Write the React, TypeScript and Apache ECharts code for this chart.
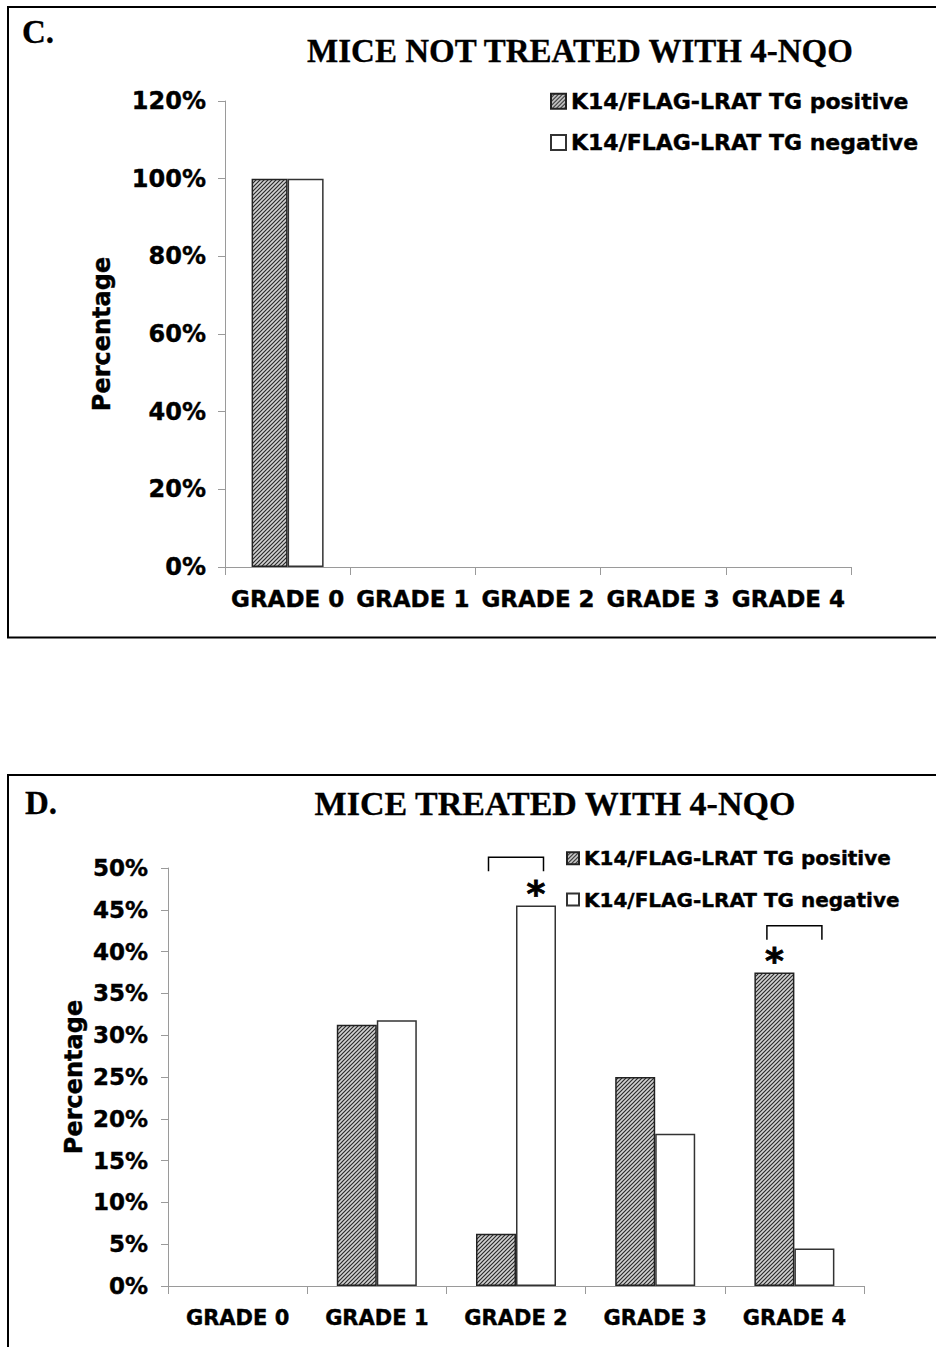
import React, { useEffect, useRef } from "react";
import * as echarts from "echarts";

// ---- data ----
const categories = ["GRADE 0", "GRADE 1", "GRADE 2", "GRADE 3", "GRADE 4"];
const seriesNames = ["K14/FLAG-LRAT TG positive", "K14/FLAG-LRAT TG negative"];
const untreatedPositive = [100, 0, 0, 0, 0];
const untreatedNegative = [100, 0, 0, 0, 0];
const treatedPositive = [0, 31.25, 6.25, 25, 37.5];
const treatedNegative = [0, 31.8, 45.5, 18.2, 4.5];
const untreatedAxis = { min: 0, max: 120, interval: 20 };
const treatedAxis = { min: 0, max: 50, interval: 5 };
// significance: bracket over category, star above one bar, bracket top value (in %)
const significance = [
  { category: "GRADE 2", star: "negative", bracketTop: 51.3 },
  { category: "GRADE 4", star: "positive", bracketTop: 43.1 },
];

const SANS = "DejaVu Sans";
const SERIF = "Liberation Serif";
const heavy = { textBorderColor: "#000", textBorderWidth: 0.4 };

export default function App() {
  const ref = useRef<HTMLDivElement>(null);

  useEffect(() => {
    document.body.style.margin = "0";
    const chart = echarts.init(ref.current!, null, { renderer: "svg" });

    const hatch = document.createElement("canvas");
    hatch.width = 4;
    hatch.height = 4;
    const ctx = hatch.getContext("2d")!;
    ctx.fillStyle = "#d2d2d2";
    ctx.fillRect(0, 0, 4, 4);
    ctx.strokeStyle = "#2a2a2a";
    ctx.lineWidth = 1.2;
    ctx.beginPath();
    ctx.moveTo(-1, 5);
    ctx.lineTo(5, -1);
    ctx.moveTo(-3, 3);
    ctx.lineTo(3, -3);
    ctx.moveTo(1, 7);
    ctx.lineTo(7, 1);
    ctx.stroke();
    const hatchColor: any = { image: hatch, repeat: "repeat" };

    const starLabel = {
      show: true,
      position: "top",
      formatter: "*",
      fontSize: 36,
      fontWeight: "bold",
      fontFamily: SANS,
      color: "#000",
      distance: -6,
      ...heavy,
      textBorderWidth: 0.8,
    };

    const mkData = (vals: number[], kind: string, withStars: boolean) =>
      vals.map((v, i) => {
        const item: any = { value: v };
        if (v === 0) item.itemStyle = { borderWidth: 0 };
        if (
          withStars &&
          significance.some((s) => s.star === kind && categories.indexOf(s.category) === i)
        ) {
          item.label = starLabel;
        }
        return item;
      });

    const posStyle = { color: hatchColor, borderColor: "#222", borderWidth: 1.5 };
    const negStyle = { color: "#ffffff", borderColor: "#333", borderWidth: 1.5 };

    const axisLine = { show: true, lineStyle: { color: "#9a9a9a", width: 1 } };
    const axisTick = { show: true, length: 7, lineStyle: { color: "#9a9a9a" } };

    const yAxisCommon = (spec: any, fontSize: number, margin: number, nameGap: number) => ({
      type: "value",
      min: spec.min,
      max: spec.max,
      interval: spec.interval,
      axisLine,
      axisTick,
      splitLine: { show: false },
      axisLabel: {
        formatter: "{value}%",
        fontFamily: SANS,
        fontWeight: "bold",
        fontSize,
        color: "#000",
        margin,
        ...heavy,
      },
      name: "Percentage",
      nameLocation: "middle",
      nameRotate: 90,
      nameGap,
      nameMoveOverlap: false,
      nameTextStyle: {
        fontFamily: SANS,
        fontWeight: "bold",
        fontSize: 24,
        color: "#000",
        ...heavy,
      },
    });

    const xAxisCommon = (fontSize: number, margin: number) => ({
      type: "category",
      data: categories,
      axisLine,
      axisTick: { show: true, length: 8, lineStyle: { color: "#9a9a9a" } },
      axisLabel: {
        interval: 0,
        fontFamily: SANS,
        fontWeight: "bold",
        fontSize,
        color: "#000",
        margin,
        ...heavy,
      },
    });

    const legendCommon = (left: number, top: number, fontSize: number, size: number) => ({
      orient: "vertical",
      left,
      top,
      itemWidth: size,
      itemHeight: size,
      itemGap: 41 - fontSize,
      icon: "rect",
      data: seriesNames,
      textStyle: { fontFamily: SANS, fontWeight: "bold", fontSize, color: "#000", ...heavy },
    });

    const serifTitle = (size: number) => ({
      fontFamily: SERIF,
      fontWeight: "bold",
      fontSize: size,
      color: "#000",
      textBorderColor: "#000",
      textBorderWidth: 0.3,
    });

    chart.setOption({
      animation: false,
      backgroundColor: "#fff",
      title: [
        {
          text: "MICE NOT TREATED WITH 4-NQO",
          left: 575,
          textAlign: "center",
          top: 29,
          textStyle: serifTitle(33),
        },
        {
          text: "MICE TREATED WITH 4-NQO",
          left: 550,
          textAlign: "center",
          top: 781,
          textStyle: serifTitle(34),
        },
        { text: "C.", left: 17, top: 10, textStyle: serifTitle(33) },
        { text: "D.", left: 20, top: 781, textStyle: serifTitle(33) },
      ],
      legend: [legendCommon(545, 85, 22, 15), legendCommon(561, 843, 20, 12)],
      grid: [
        { left: 225, top: 101, width: 626, height: 466 },
        { left: 168, top: 868, width: 696, height: 418 },
      ],
      xAxis: [
        { ...xAxisCommon(23, 20), gridIndex: 0 },
        { ...xAxisCommon(21, 21), gridIndex: 1 },
      ],
      yAxis: [
        { ...yAxisCommon(untreatedAxis, 24, 19, 111), gridIndex: 0 },
        { ...yAxisCommon(treatedAxis, 23, 20, 82), gridIndex: 1 },
      ],
      series: [
        {
          name: seriesNames[0],
          type: "bar",
          xAxisIndex: 0,
          yAxisIndex: 0,
          barWidth: 36,
          barGap: "0%",
          itemStyle: posStyle,
          data: mkData(untreatedPositive, "positive", false),
        },
        {
          name: seriesNames[1],
          type: "bar",
          xAxisIndex: 0,
          yAxisIndex: 0,
          barWidth: 36,
          barGap: "0%",
          itemStyle: negStyle,
          data: mkData(untreatedNegative, "negative", false),
        },
        {
          name: seriesNames[0],
          type: "bar",
          xAxisIndex: 1,
          yAxisIndex: 1,
          barWidth: 40,
          barGap: "0%",
          itemStyle: posStyle,
          data: mkData(treatedPositive, "positive", true),
        },
        {
          name: seriesNames[1],
          type: "bar",
          xAxisIndex: 1,
          yAxisIndex: 1,
          barWidth: 40,
          barGap: "0%",
          itemStyle: negStyle,
          data: mkData(treatedNegative, "negative", true),
        },
      ],
    });

    const BRACKET_HALF = 27.5;
    const LEG = 14;
    const brackets = significance.map((s) => {
      const p = chart.convertToPixel({ xAxisIndex: 1, yAxisIndex: 1 } as any, [
        s.category,
        s.bracketTop,
      ]) as number[];
      const cx = p[0];
      const y = p[1];
      return {
        type: "polyline",
        silent: true,
        shape: {
          points: [
            [cx - BRACKET_HALF, y + LEG],
            [cx - BRACKET_HALF, y],
            [cx + BRACKET_HALF, y],
            [cx + BRACKET_HALF, y + LEG],
          ],
        },
        style: { stroke: "#000", lineWidth: 1.5, fill: null },
      };
    });

    chart.setOption({
      graphic: {
        elements: [
          {
            type: "rect",
            silent: true,
            shape: { x: 8, y: 7, width: 940, height: 630.5 },
            style: { fill: null, stroke: "#000", lineWidth: 2 },
          },
          {
            type: "rect",
            silent: true,
            shape: { x: 8, y: 775, width: 940, height: 620 },
            style: { fill: null, stroke: "#000", lineWidth: 2 },
          },
          ...brackets,
        ],
      },
    });

    return () => chart.dispose();
  }, []);

  return <div ref={ref} style={{ width: 936, height: 1347 }} />;
}
